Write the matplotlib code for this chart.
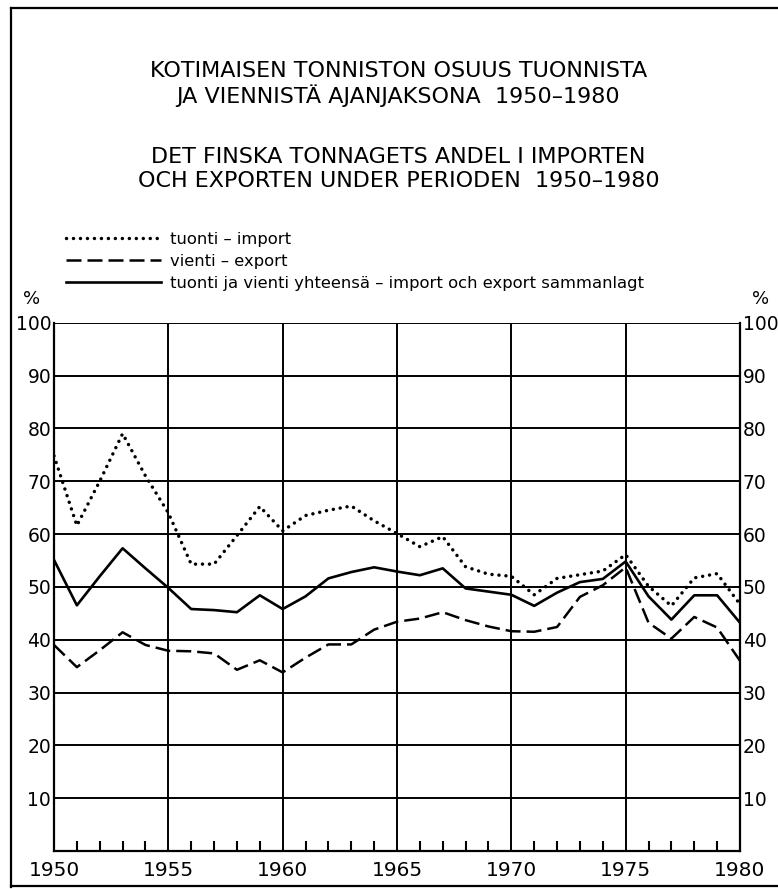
import matplotlib
matplotlib.use("Agg")
import matplotlib.pyplot as plt
from matplotlib.lines import Line2D
from matplotlib.ticker import MultipleLocator

# ---------- data ----------
years = list(range(1950, 1981))

tuonti = [74.8, 61.6, 70.0, 79.0, 71.0, 64.0, 54.3, 54.3, 59.7, 65.2,
          60.6, 63.5, 64.5, 65.3, 62.5, 60.1, 57.6, 59.5, 53.8, 52.4,
          52.0, 48.5, 51.6, 52.3, 53.0, 56.1, 50.1, 46.4, 51.7, 52.5,
          46.7]

vienti = [39.0, 34.8, 38.0, 41.4, 39.0, 37.9, 37.8, 37.4, 34.3, 36.1,
          33.8, 36.6, 39.1, 39.1, 41.9, 43.4, 44.0, 45.2, 43.7, 42.5,
          41.6, 41.5, 42.4, 48.1, 50.3, 53.7, 43.2, 40.2, 44.3, 42.3,
          36.0]

yhteensa = [55.1, 46.5, 52.0, 57.3, 53.5, 49.8, 45.8, 45.6, 45.2, 48.4,
            45.8, 48.2, 51.6, 52.8, 53.7, 52.9, 52.2, 53.5, 49.7, 49.1,
            48.5, 46.4, 48.9, 50.9, 51.5, 54.8, 48.2, 43.8, 48.4, 48.4,
            43.2]

labels = ["tuonti \u2013 import",
          "vienti \u2013 export",
          "tuonti ja vienti yhteens\u00e4 \u2013 import och export sammanlagt"]

title_fi = "KOTIMAISEN TONNISTON OSUUS TUONNISTA\nJA VIENNIST\u00c4 AJANJAKSONA  1950\u20131980"
title_sv = "DET FINSKA TONNAGETS ANDEL I IMPORTEN\nOCH EXPORTEN UNDER PERIODEN  1950\u20131980"

y_ticks = [10, 20, 30, 40, 50, 60, 70, 80, 90, 100]
x_ticks = [1950, 1955, 1960, 1965, 1970, 1975, 1980]

# ---------- figure ----------
W, H = 778, 889
plt.rcParams["font.family"] = ["DejaVu Sans"]
fig = plt.figure(figsize=(W / 100, H / 100), dpi=100)

def fx(px):
    return px / W

def fy(py):
    return 1 - py / H

ax = fig.add_axes([fx(54), fy(851), fx(740) - fx(54), fy(322.7) - fy(851)])

ax.set_xlim(1950, 1980)
ax.set_ylim(0, 100)

# grid
for v in y_ticks:
    ax.axhline(v, color="black", lw=1.4, zorder=1)
for yr in x_ticks[1:-1]:
    ax.axvline(yr, color="black", lw=1.4, zorder=1)
for side in ("left", "right", "bottom"):
    ax.spines[side].set_linewidth(1.6)
ax.spines["top"].set_visible(False)

l_imp, = ax.plot(years, tuonti, color="black", lw=2.5,
                 ls=(0, (0.01, 2.0)), dash_capstyle="round", zorder=3)
l_exp, = ax.plot(years, vienti, color="black", lw=1.8,
                 ls=(0, (6.0, 2.4)), zorder=3)
l_tot, = ax.plot(years, yhteensa, color="black", lw=1.9, zorder=3)

ax.set_yticks(y_ticks)
ax.set_xticks(x_ticks)
ax.xaxis.set_minor_locator(MultipleLocator(1))
ax.tick_params(axis="y", length=0, labelsize=13.5, pad=2,
               left=False, right=False, labelleft=True, labelright=True)
ax.tick_params(axis="x", which="major", length=0, labelsize=14.5, pad=7)
ax.tick_params(axis="x", which="minor", direction="in", length=7, width=1.5)

# percent signs
fig.text(fx(32), fy(299), "%", fontsize=13, ha="center", va="center")
fig.text(fx(761), fy(299), "%", fontsize=13, ha="center", va="center")

# titles
fig.text(0.512, fy(84), title_fi, fontsize=16, ha="center", va="center",
         linespacing=1.2)
fig.text(0.512, fy(169), title_sv, fontsize=16, ha="center", va="center",
         linespacing=1.2)

# legend
fig.legend([l_imp, l_exp, l_tot], labels, loc="upper left",
           bbox_to_anchor=(fx(66), fy(232)), frameon=False, fontsize=11.8,
           handlelength=5.8, handletextpad=0.55, labelspacing=0.42,
           borderpad=0, borderaxespad=0)

# outer frame
frame = dict(color="black", lw=1.6, transform=fig.transFigure)
fig.add_artist(Line2D([fx(11), fx(11)], [fy(8), fy(887)], **frame))
fig.add_artist(Line2D([fx(11), fx(777)], [fy(8), fy(8)], **frame))
fig.add_artist(Line2D([fx(11), fx(777)], [fy(886), fy(886)], **frame))

fig.savefig("out.png", dpi=100)
